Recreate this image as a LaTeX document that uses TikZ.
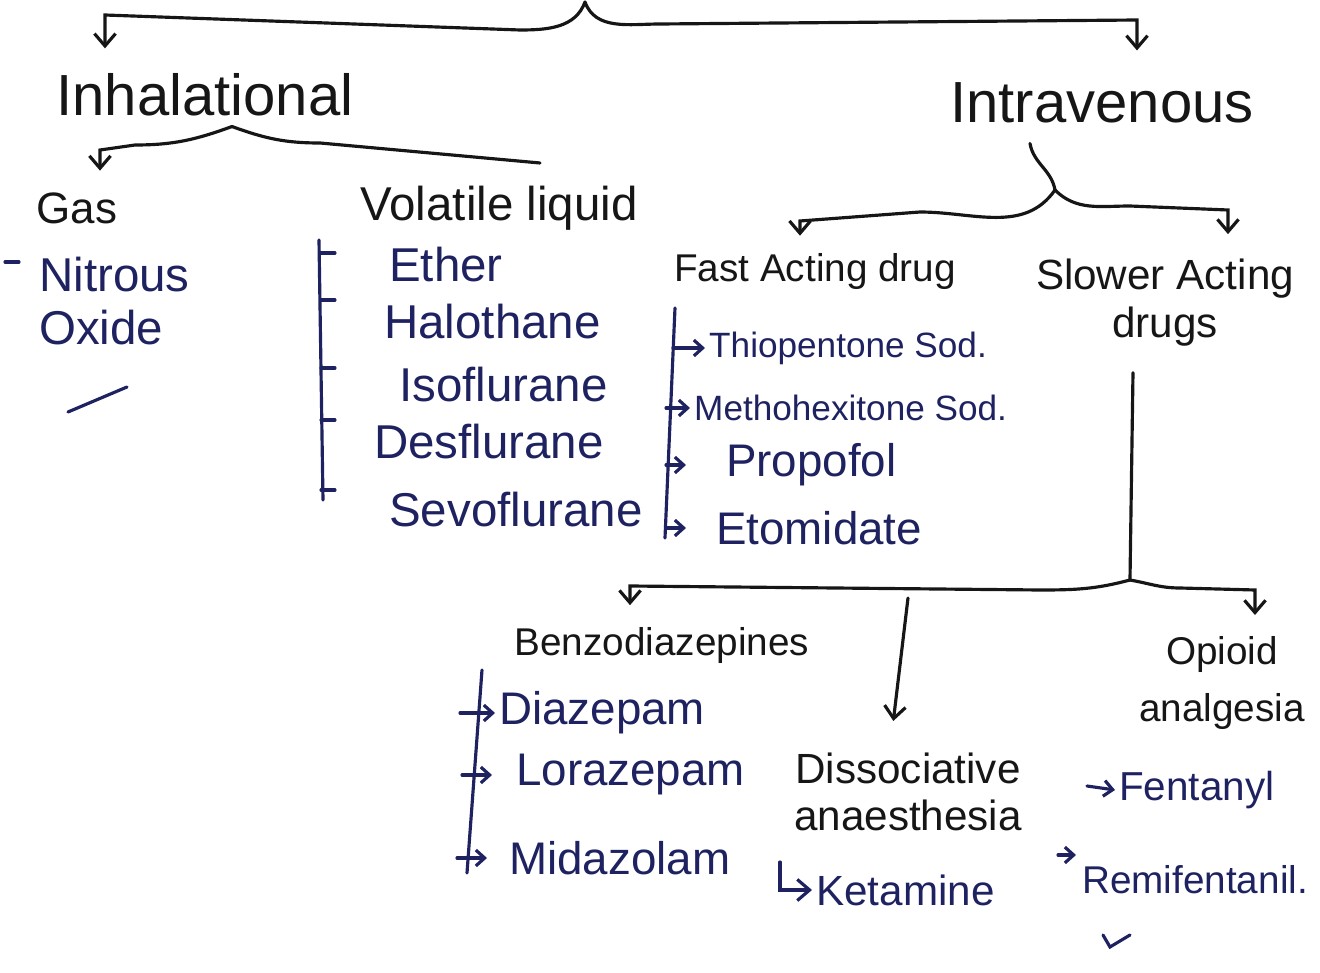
\documentclass[tikz,border=0pt]{standalone}
\usepackage{fontspec}
\setmainfont{Liberation Sans}
\usetikzlibrary{arrows.meta}
\definecolor{ink}{RGB}{22,22,22}
\definecolor{pen}{RGB}{30,34,96}
\newcommand{\handsize}[2]{\fontsize{#1}{#2}\selectfont}
\begin{document}
\begin{tikzpicture}[x=0.01cm, y=-0.01cm,
  head/.style={text=ink, font=\handsize{16.5}{18}, inner sep=1pt},
  sub/.style={text=ink, font=\handsize{12}{14}, inner sep=1pt, align=center},
  item/.style={text=pen, font=\handsize{13}{15}, inner sep=1pt, anchor=west},
  brace/.style={draw=ink, line width=0.9pt, line cap=round},
  list/.style={draw=pen, line width=0.9pt, line cap=round},
  tip/.style={-{Straight Barb[length=3.5pt,width=6pt]}},
  small tip/.style={-{Straight Barb[length=2.5pt,width=4.5pt]}}
]
\useasboundingbox (0,0) rectangle (1320,973);

  % Headings
  \node[head] (inh) at (205,95) {Inhalational};
  \node[head] (iv) at (1102,103) {Intravenous};
  \coordinate (root) at (585,2);
  \draw[brace, tip, shorten >=6pt] (root) to[out=250,in=0] (520,30) -- (105,15) -- (105,0 |- inh.north);
  \draw[brace, tip, shorten >=8pt] (root) to[out=290,in=180] (660,24) -- (1137,20) -- (1137,0 |- iv.north);

  % Inhalational
  \node[sub, font=\handsize{12.5}{14}] (gas) at (77,208) {Gas};
  \node[sub, font=\handsize{13.5}{15}] (vol) at (499,208) {Volatile liquid};
  \draw[brace, tip, shorten >=5pt] (inh.south) ++(27,6) to[out=200,in=0] (135,145) -- (100,150) -- (100,0 |- gas.north);
  \draw[brace] (inh.south) ++(27,6) to[out=-20,in=180] (320,143) -- (540,163);

  % Gas
  \node[item, align=left, font=\handsize{13.5}{15}] (nit) at (35,301) {Nitrous\\Oxide};
  \draw[list] (5,262) -- (19,262);
  \draw[list] (68,412) -- (127,387);

  % Volatile liquid
  \node[item, font=\handsize{13.5}{16}] (ether) at (385,265) {Ether};
  \node[item, font=\handsize{13.5}{16}] (halo) at (380,322) {Halothane};
  \node[item, font=\handsize{13.5}{16}] (iso) at (395,385) {Isoflurane};
  \node[item, font=\handsize{13.5}{16}] (des) at (370,442) {Desflurane};
  \node[item, font=\handsize{13.5}{16}] (sevo) at (385,510) {Sevoflurane};
  \draw[list] (319,240) -- (323,500);
  \foreach \y in {253,300,368,420,490}
    \draw[list] (321,\y) -- ++(14,0);

  % Intravenous
  \node[sub, font=\handsize{11}{13}] (fast) at (815,272) {Fast Acting drug};
  \node[sub, font=\handsize{12}{13.6}] (slow) at (1165,303) {Slower Acting\\drugs};
  \coordinate (ivfork) at (1055,190);
  \draw[brace] (iv.south) ++(-72,16) to[out=-80,in=100] (ivfork);
  \draw[brace, tip, shorten >=4pt] (ivfork) to[out=235,in=0] (920,212) -- (800,221) -- (800,0 |- fast.north);
  \draw[brace, tip, shorten >=6pt] (ivfork) to[out=-45,in=180] (1130,206) -- (1228,210) -- (1228,0 |- slow.north);

  % Fast acting
  \node[item, font=\handsize{10}{12}] (thio) at (705,348) {Thiopentone Sod.};
  \node[item, font=\handsize{10}{12}] (meth) at (690,408) {Methohexitone Sod.};
  \node[item] (prop) at (722,465) {Propofol};
  \node[item] (etom) at (712,528) {Etomidate};
  \draw[list] (675,308) -- (665,538);
  \draw[list, small tip] (thio.west) ++(-32,0) -- (thio.west);
  \draw[list, small tip] (meth.west) ++(-24,0) -- (meth.west);
  \draw[list, small tip] (prop.west) ++(-56,0) -- ++(20,0);
  \draw[list, small tip] (etom.west) ++(-46,0) -- ++(20,0);

  % Slower acting
  \node[sub, font=\handsize{11}{13}] (benzo) at (662,645) {Benzodiazepines};
  \node[sub, font=\handsize{12}{13.3}] (diss) at (908,792) {Dissociative\\anaesthesia};
  \node[sub, font=\handsize{11}{16}] (opi) at (1222,683) {Opioid\\analgesia};
  \coordinate (sfork) at (1130,580);
  \coordinate (dstart) at (908,598);
  \draw[brace] (slow.south) ++(-32,22) -- (sfork);
  \draw[brace, tip, shorten >=5pt] (sfork) to[out=195,in=0] (1040,590) -- (630,586) -- (630,0 |- benzo.north);
  \draw[brace, tip, shorten >=5pt] (sfork) to[out=-10,in=180] (1180,588) -- (1255,590) -- (1255,0 |- opi.north);
  \draw[brace, tip, shorten >=8pt] (dstart) -- (890,0 |- diss.north);

  % Benzodiazepines
  \node[item] (dia) at (495,713) {Diazepam};
  \node[item] (lora) at (512,775) {Lorazepam};
  \node[item] (mida) at (505,858) {Midazolam};
  \draw[list] (482,670) -- (467,873);
  \draw[list, small tip] (dia.west) ++(-35,0) -- (dia.west);
  \draw[list, small tip] (lora.west) ++(-50,0) -- ++(30,0);
  \draw[list, small tip] (mida.west) ++(-48,0) -- ++(30,0);

  % Dissociative
  \node[item, font=\handsize{12}{14}] (ket) at (812,890) {Ketamine};
  \draw[list, tip] (ket.west) ++(-32,-28) |- (ket.west);

  % Opioid
  \node[item, font=\handsize{11.5}{13}] (fent) at (1115,790) {Fentanyl};
  \node[item, font=\handsize{11}{13}] (remi) at (1078,880) {Remifentanil.};
  \draw[list, small tip] (fent.west) ++(-28,-4) -- (fent.west);
  \draw[list, small tip] (remi.west) ++(-20,-25) -- ++(18,0);
  \draw[list] (1103,935) -- (1110,947) -- (1130,935);
\end{tikzpicture}
\end{document}
